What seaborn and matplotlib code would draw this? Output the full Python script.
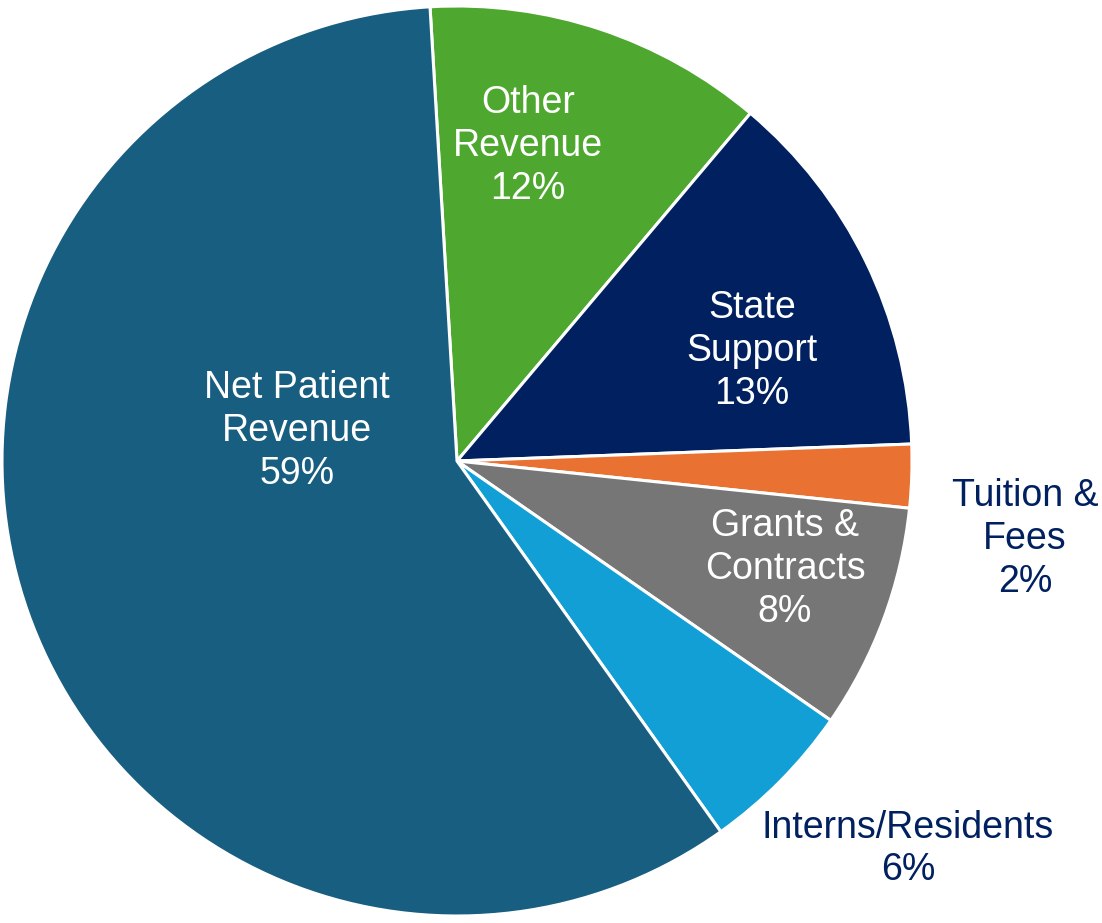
import matplotlib
matplotlib.use("Agg")
import matplotlib.pyplot as plt
import seaborn as sns

categories = ["Other\nRevenue", "State\nSupport", "Tuition &\nFees", "Grants &\nContracts",
              "Interns/Residents", "Net Patient\nRevenue"]
values = [12.1, 13.25, 2.25, 8.0, 5.5, 58.9]
pct_labels = ["12%", "13%", "2%", "8%", "6%", "59%"]
colors = ["#4EA72E", "#002060", "#E97132", "#767676", "#129FD6", "#185E80"]
text_colors = ["white", "white", "#002060", "white", "#002060", "white"]
# label centers in pixel coords (x, y from top)
label_pos = [(528, 146), (752, 351), (1025, 539), (785, 569), (908, 849), (297, 431)]

sns.set_theme(style="white")
plt.rcParams['font.family'] = ['Liberation Sans', 'DejaVu Sans']

W, H = 1102, 923
fig = plt.figure(figsize=(W / 100, H / 100), dpi=100)
ax = fig.add_axes([0, 0, 1, 1])
ax.pie(values, colors=colors, startangle=93.4, counterclock=False,
       center=(457, H - 461), radius=455, frame=True,
       wedgeprops=dict(edgecolor="white", linewidth=2.2))
ax.set_xlim(0, W)
ax.set_ylim(0, H)
ax.set_aspect("equal")
ax.axis("off")

for cat, pct, (x, y), tc in zip(categories, pct_labels, label_pos, text_colors):
    ax.text(x, H - y, f"{cat}\n{pct}", ha="center", va="center", color=tc,
            fontsize=27, linespacing=1.24)

fig.savefig("out.png", dpi=100)
